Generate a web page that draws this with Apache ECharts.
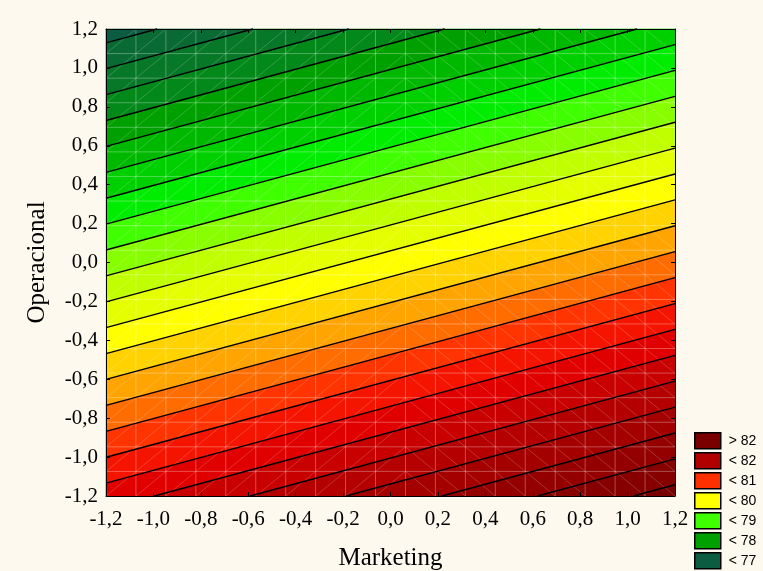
<!DOCTYPE html>
<html><head><meta charset="utf-8">
<script src="https://cdn.jsdelivr.net/npm/echarts@6/dist/echarts.min.js"></script>
<style>html,body{margin:0;padding:0;background:#fdf9ef}#c{width:763px;height:571px}</style>
</head><body><div id="c"></div>
<script>
// ---- data ----
const tickValues = [-1.2, -1.0, -0.8, -0.6, -0.4, -0.2, 0.0, 0.2, 0.4, 0.6, 0.8, 1.0, 1.2];
const xName = 'Marketing';
const yName = 'Operacional';
// each contour line is straight: its Operacional value at Marketing = -1.2 (left) and at +1.2 (right)
const contourLeftY  = [1.129, 0.996, 0.863, 0.730, 0.597, 0.463, 0.330, 0.197, 0.064, -0.069, -0.202, -0.335,
                       -0.468, -0.601, -0.734, -0.868, -1.001, -1.134, -1.267, -1.400, -1.533, -1.666, -1.799, -1.932];
const contourRightY = [1.919, 1.786, 1.653, 1.520, 1.387, 1.253, 1.120, 0.987, 0.854, 0.721, 0.588, 0.455,
                       0.322, 0.189, 0.056, -0.078, -0.211, -0.344, -0.477, -0.610, -0.743, -0.876, -1.009, -1.142];
// fill of each band, from the top-left corner band to the bottom-right corner band
const bandColors = ['#0b5c40', '#096a34', '#067828', '#03881a', '#00a000', '#00b800', '#00d000', '#00ec00',
                    '#40ff00', '#88ff00', '#c0ff00', '#e4ff00', '#ffff00', '#ffd200', '#ffa400', '#ff6c00',
                    '#ff3400', '#f41400', '#e00000', '#c80000', '#b40000', '#a40000', '#940000', '#860000', '#780000'];
const legendLabels = ['> 82', '< 82', '< 81', '< 80', '< 79', '< 78', '< 77'];
const legendColors = ['#7a0000', '#b00000', '#ff3000', '#ffff00', '#40ff00', '#00a000', '#0b5c40'];
const meshCells = 19;

// ---- build ----
const xmin = tickValues[0], xmax = tickValues[tickValues.length - 1];
const ymin = tickValues[0], ymax = tickValues[tickValues.length - 1];
const BIG = 5;

const bandData = bandColors.map((c, i) => {
  const top = i === 0 ? [BIG, BIG] : [contourLeftY[i - 1], contourRightY[i - 1]];
  const bot = i === bandColors.length - 1 ? [-BIG, -BIG] : [contourLeftY[i], contourRightY[i]];
  return [top[0], top[1], bot[0], bot[1]];
});
const lineData = contourLeftY.map((l, i) => [l, contourRightY[i]]);

function clipY(poly, bound, keepBelow) {
  const out = [];
  for (let i = 0; i < poly.length; i++) {
    const a = poly[i], b = poly[(i + 1) % poly.length];
    const ina = keepBelow ? a[1] <= bound : a[1] >= bound;
    const inb = keepBelow ? b[1] <= bound : b[1] >= bound;
    if (ina) out.push(a);
    if (ina !== inb) {
      const t = (bound - a[1]) / (b[1] - a[1]);
      out.push([a[0] + t * (b[0] - a[0]), bound]);
    }
  }
  return out;
}

const fmt = v => (Math.abs(v) < 1e-9 ? 0 : v).toFixed(1).replace('.', ',');
const serif = 'Liberation Serif';

function makeAxis(pos, showLabel, name) {
  const a = {
    type: 'value', position: pos, min: xmin, max: xmax, interval: 0.2, z: 10,
    axisLine: { show: true, onZero: false, lineStyle: { color: '#000', width: 1 } },
    axisTick: { show: true, inside: true, length: 4, lineStyle: { color: '#000', width: 1 } },
    splitLine: { show: false },
    axisLabel: { show: showLabel, formatter: fmt, color: '#000', fontFamily: serif, fontSize: 21,
                 margin: pos === 'bottom' ? 13 : 8, showMinLabel: true, showMaxLabel: true }
  };
  if (name) {
    a.name = name; a.nameLocation = 'middle';
    a.nameTextStyle = { color: '#000', fontFamily: serif, fontSize: 25 };
  }
  return a;
}
const xb = makeAxis('bottom', true, xName); xb.nameGap = 50;
const xt = makeAxis('top', false);
const yl = makeAxis('left', true, yName); yl.nameGap = 56; yl.nameRotate = 90;
const yr = makeAxis('right', false);

const series = [
  {
    type: 'custom', silent: true, z: 1, xAxisIndex: 0, yAxisIndex: 0, data: bandData,
    renderItem(params, api) {
      let poly = [[xmin, api.value(0)], [xmax, api.value(1)], [xmax, api.value(3)], [xmin, api.value(2)]];
      poly = clipY(poly, ymax, true);
      poly = clipY(poly, ymin, false);
      if (poly.length < 3) return null;
      const c = bandColors[params.dataIndex];
      return { type: 'polygon', shape: { points: poly.map(p => api.coord(p)) },
               style: { fill: c, stroke: c, lineWidth: 0.6 } };
    }
  },
  {
    type: 'custom', silent: true, z: 2, xAxisIndex: 0, yAxisIndex: 0, data: [[0, 0]],
    renderItem(params, api) {
      const children = [];
      const sx = (xmax - xmin) / meshCells, sy = (ymax - ymin) / meshCells;
      const grid = 'rgba(255,255,255,0.30)', diag = 'rgba(255,255,255,0.24)';
      for (let j = 1; j < meshCells; j++) {
        const x = xmin + j * sx, y = ymin + j * sy;
        const p1 = api.coord([x, ymin]), p2 = api.coord([x, ymax]);
        children.push({ type: 'line', shape: { x1: p1[0], y1: p1[1], x2: p2[0], y2: p2[1] }, style: { stroke: grid, lineWidth: 1 } });
        const q1 = api.coord([xmin, y]), q2 = api.coord([xmax, y]);
        children.push({ type: 'line', shape: { x1: q1[0], y1: q1[1], x2: q2[0], y2: q2[1] }, style: { stroke: grid, lineWidth: 1 } });
      }
      for (let i = 0; i < meshCells; i++) {
        for (let j = 0; j < meshCells; j++) {
          const x0 = xmin + i * sx, x1 = x0 + sx, y0 = ymin + j * sy, y1 = y0 + sy;
          let a, b;
          if (i < 10) { a = api.coord([x0, y0]); b = api.coord([x1, y1]); }
          else { a = api.coord([x0, y1]); b = api.coord([x1, y0]); }
          children.push({ type: 'line', shape: { x1: a[0], y1: a[1], x2: b[0], y2: b[1] }, style: { stroke: diag, lineWidth: 0.8 } });
        }
      }
      return { type: 'group', children };
    }
  },
  {
    type: 'custom', silent: true, z: 3, xAxisIndex: 0, yAxisIndex: 0, data: lineData,
    renderItem(params, api) {
      const L = api.value(0), R = api.value(1);
      const xAt = y => xmin + (y - L) / (R - L) * (xmax - xmin);
      let xa = xmin, xb2 = xmax;
      if (R !== L) {
        const xlo = xAt(ymin), xhi = xAt(ymax);
        xa = Math.max(xmin, Math.min(xlo, xhi));
        xb2 = Math.min(xmax, Math.max(xlo, xhi));
      }
      if (xa >= xb2) return null;
      const yOf = x => L + (R - L) * (x - xmin) / (xmax - xmin);
      const a = api.coord([xa, yOf(xa)]), b = api.coord([xb2, yOf(xb2)]);
      return { type: 'line', shape: { x1: a[0], y1: a[1], x2: b[0], y2: b[1] }, style: { stroke: '#000', lineWidth: 1.4 } };
    }
  }
];
legendLabels.forEach((n, i) => {
  series.push({ type: 'custom', name: n, data: [], xAxisIndex: 0, yAxisIndex: 0,
    itemStyle: { color: legendColors[i] }, renderItem: () => null });
});

const chart = echarts.init(document.getElementById('c'), null, { renderer: 'canvas' });
chart.setOption({
  backgroundColor: '#fdf9ef',
  animation: false,
  grid: { left: 106, right: 88, top: 29, bottom: 75, containLabel: false, outerBoundsMode: 'none' },
  xAxis: [xb, xt],
  yAxis: [yl, yr],
  legend: {
    orient: 'vertical', left: 694, top: 432, height: 300, padding: 0, itemGap: 2.5, itemWidth: 26, itemHeight: 16,
    icon: 'rect', selectedMode: false,
    textStyle: { color: '#000', fontFamily: 'Liberation Sans', fontSize: 14, lineHeight: 16, padding: [0, 0, 0, 3] },
    data: legendLabels.map((n, i) => ({ name: n, icon: 'rect',
      itemStyle: { color: legendColors[i], borderColor: '#000', borderWidth: 1.5 } }))
  },
  series
});
</script></body></html>
